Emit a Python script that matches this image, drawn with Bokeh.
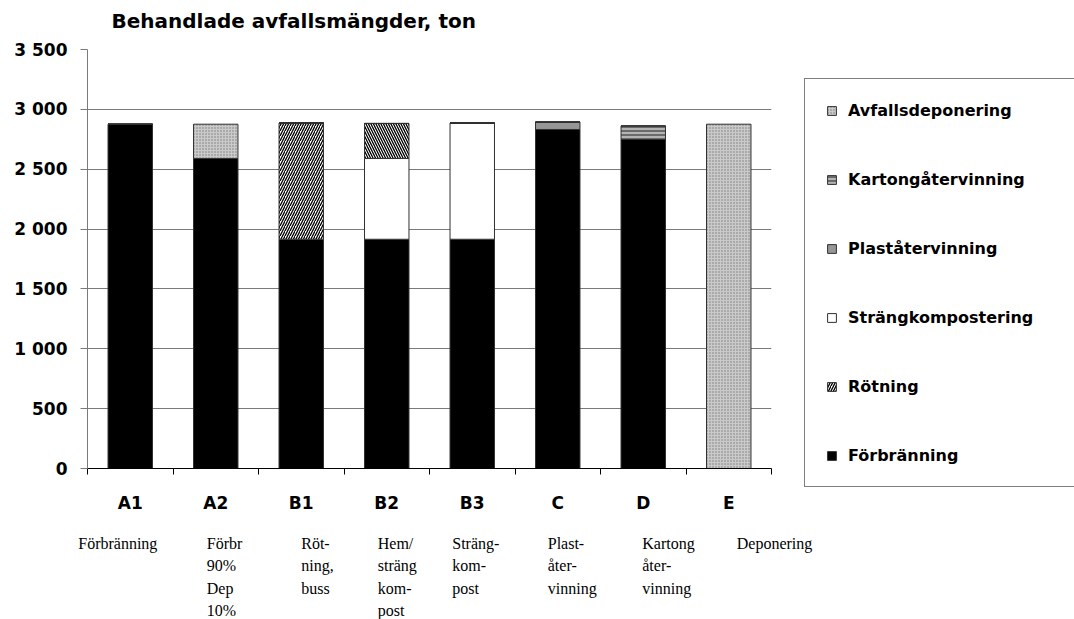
from bokeh.plotting import figure
from bokeh.models import (Range1d, FixedTicker, Legend, LegendItem, ColumnDataSource)
from bokeh.core.properties import value
from bokeh.layouts import column, row
from bokeh.transform import stack
from bokeh.embed import file_html
from bokeh.resources import INLINE

# ---------------- data ----------------
codes = ["A1", "A2", "B1", "B2", "B3", "C", "D", "E"]
descriptions = ["Förbränning", "Förbr\n90%\nDep\n10%", "Röt-\nning,\nbuss",
                "Hem/\nsträng\nkom-\npost", "Sträng-\nkom-\npost",
                "Plast-\nåter-\nvinning", "Kartong\nåter-\nvinning", "Deponering"]

forbranning = [2875, 2590, 1915, 1915, 1915, 2832, 2748, 0]
rotning = [0, 0, 970, 0, 0, 0, 0, 0]
strangkompostering = [0, 0, 0, 675, 970, 0, 0, 0]
hemkompostering = [0, 0, 0, 292, 0, 0, 0, 0]
plastatervinning = [0, 0, 0, 0, 0, 62, 0, 0]
kartongatervinning = [0, 0, 0, 0, 0, 0, 114, 0]
avfallsdeponering = [0, 286, 0, 0, 0, 0, 0, 2876]

series_names = ["Förbränning", "Rötning", "Strängkompostering", "Hemkompostering",
                "Plaståtervinning", "Kartongåtervinning", "Avfallsdeponering"]
series_values = [forbranning, rotning, strangkompostering, hemkompostering,
                 plastatervinning, kartongatervinning, avfallsdeponering]
legend_order = ["Avfallsdeponering", "Kartongåtervinning", "Plaståtervinning",
                "Strängkompostering", "Rötning", "Förbränning"]

y_ticks = [0, 500, 1000, 1500, 2000, 2500, 3000, 3500]
y_tick_labels = ["0", "500", "1 000", "1 500", "2 000", "2 500", "3 000", "3 500"]

title_text = "Behandlade avfallsmängder, ton"

# ---------------- styles / layout ----------------
styles = {
    "Förbränning": dict(fill_color="black"),
    "Rötning": dict(fill_color="white", hatch_pattern="right_diagonal_line",
                    hatch_color="black", hatch_scale=5, hatch_weight=1.3),
    "Strängkompostering": dict(fill_color="white"),
    "Hemkompostering": dict(fill_color="white", hatch_pattern="left_diagonal_line",
                            hatch_color="black", hatch_scale=5, hatch_weight=1.3),
    "Plaståtervinning": dict(fill_color="#969696"),
    "Kartongåtervinning": dict(fill_color="#b4b4b4", hatch_pattern="horizontal_line",
                               hatch_color="#202020", hatch_scale=4, hatch_weight=1),
    "Avfallsdeponering": dict(fill_color="#cacaca", hatch_pattern="dot",
                              hatch_color="#7a7a7a", hatch_scale=3, hatch_weight=1),
}
desc_offsets = [-52, -9, 0, -9, -20, -10, -1, 8]

FONT = "DejaVu Sans"
SERIF = "Liberation Serif"
W = 1074
H_TITLE, H_MAIN, H_DESC = 36, 484, 99
W_MAIN = 790
LEFT, RIGHT, TOP, BOTTOM = 87, 19, 13, 52
n = len(codes)
frame_w = W_MAIN - LEFT - RIGHT
px_per_unit = frame_w / n
strip_x0 = -0.5 - LEFT / px_per_unit
strip_x1 = n - 0.5 + (W - LEFT - frame_w) / px_per_unit

data = {"x": list(range(n))}
for name, v in zip(series_names, series_values):
    data[name] = v
src = ColumnDataSource(data)

# ---------------- title strip ----------------
t = figure(width=W, height=H_TITLE, output_backend="svg", toolbar_location=None,
           x_range=Range1d(strip_x0, strip_x1), y_range=Range1d(H_TITLE, 0),
           min_border=0, x_axis_type=None, y_axis_type=None)
t.outline_line_color = None
t.grid.visible = False
t.text(x=[-0.5], y=[20], text=[title_text], x_offset=24,
       text_align="left", text_baseline="middle", text_font=value(FONT),
       text_font_style="bold", text_font_size="20px", text_color="black")

# ---------------- main chart ----------------
p = figure(width=W_MAIN, height=H_MAIN, output_backend="svg", toolbar_location=None,
           x_range=Range1d(-0.5, n - 0.5), y_range=Range1d(0, 3500),
           min_border_left=LEFT, min_border_right=RIGHT, min_border_top=TOP,
           min_border_bottom=BOTTOM)
p.outline_line_color = None
p.background_fill_color = "white"
p.border_fill_color = "white"

for i, name in enumerate(series_names):
    bottom = stack(*series_names[:i]) if i > 0 else 0
    top = stack(*series_names[:i + 1])
    p.vbar(x="x", width=0.52, bottom=bottom, top=top, source=src,
           line_color="#303030", line_width=1, **styles[name])

p.xgrid.visible = False
p.ygrid.ticker = FixedTicker(ticks=y_ticks)
p.ygrid.grid_line_color = "#7a7a7a"
p.ygrid.grid_line_width = 1
p.ygrid.level = "underlay"

ya = p.yaxis[0]
ya.ticker = FixedTicker(ticks=y_ticks)
ya.major_label_overrides = {tk: lb for tk, lb in zip(y_ticks, y_tick_labels)}
ya.major_label_text_font = FONT
ya.major_label_text_font_style = "bold"
ya.major_label_text_font_size = "17px"
ya.major_label_text_color = "black"
ya.axis_line_color = "#7a7a7a"
ya.major_tick_line_color = "#7a7a7a"
ya.major_tick_out = 7
ya.major_tick_in = 0
ya.minor_tick_line_color = None
ya.major_label_standoff = 13

xa = p.xaxis[0]
xa.ticker = FixedTicker(ticks=list(range(n)),
                        minor_ticks=[i - 0.5 for i in range(n + 1)])
xa.major_label_overrides = {i: c for i, c in enumerate(codes)}
xa.major_label_text_font = FONT
xa.major_label_text_font_style = "bold"
xa.major_label_text_font_size = "17px"
xa.major_label_text_color = "black"
xa.major_label_standoff = 18
xa.axis_line_color = "black"
xa.major_tick_line_color = None
xa.minor_tick_line_color = "black"
xa.minor_tick_out = 6
xa.minor_tick_in = 0

# ---------------- legend figure ----------------
lf = figure(width=W - W_MAIN, height=H_MAIN, output_backend="svg",
            toolbar_location=None, min_border=0, x_axis_type=None, y_axis_type=None,
            x_range=Range1d(0, 1), y_range=Range1d(0, 1))
lf.outline_line_color = None
lf.grid.visible = False
hidden = ColumnDataSource(dict(x=[-10], top=[-10]))  # outside the view, swatches only
legend_renderers = {}
for name in legend_order:
    legend_renderers[name] = lf.vbar(x="x", top="top", width=1, source=hidden,
                                     line_color="#303030", line_width=1,
                                     **styles[name])
items = [LegendItem(label=name, renderers=[legend_renderers[name]], index=0)
         for name in legend_order]
legend = Legend(items=items, location=(14, 33), orientation="vertical",
                glyph_width=11, glyph_height=11, label_standoff=11,
                label_height=20, label_width=211, spacing=49, padding=21,
                margin=0, border_line_color="black", border_line_width=1,
                background_fill_color="white", background_fill_alpha=1,
                label_text_font=FONT, label_text_font_style="bold",
                label_text_font_size="16px", label_text_color="black")
lf.add_layout(legend, "center")

# ---------------- descriptions strip ----------------
q = figure(width=W, height=H_DESC, output_backend="svg", toolbar_location=None,
           x_range=Range1d(strip_x0, strip_x1), y_range=Range1d(H_DESC, 0),
           min_border=0, x_axis_type=None, y_axis_type=None)
q.outline_line_color = None
q.grid.visible = False
dsrc = ColumnDataSource(dict(x=list(range(n)), y=[14] * n, text=descriptions,
                             dx=desc_offsets))
q.text(x="x", y="y", text="text", x_offset="dx", source=dsrc,
       text_align="left", text_baseline="top", text_font=value(SERIF),
       text_font_size="16px", text_line_height=1.33, text_color="black")

layout = column(t, row(p, column(lf, spacing=0), spacing=0), q, spacing=0)
open("out.html", "w").write(file_html(layout, INLINE))
